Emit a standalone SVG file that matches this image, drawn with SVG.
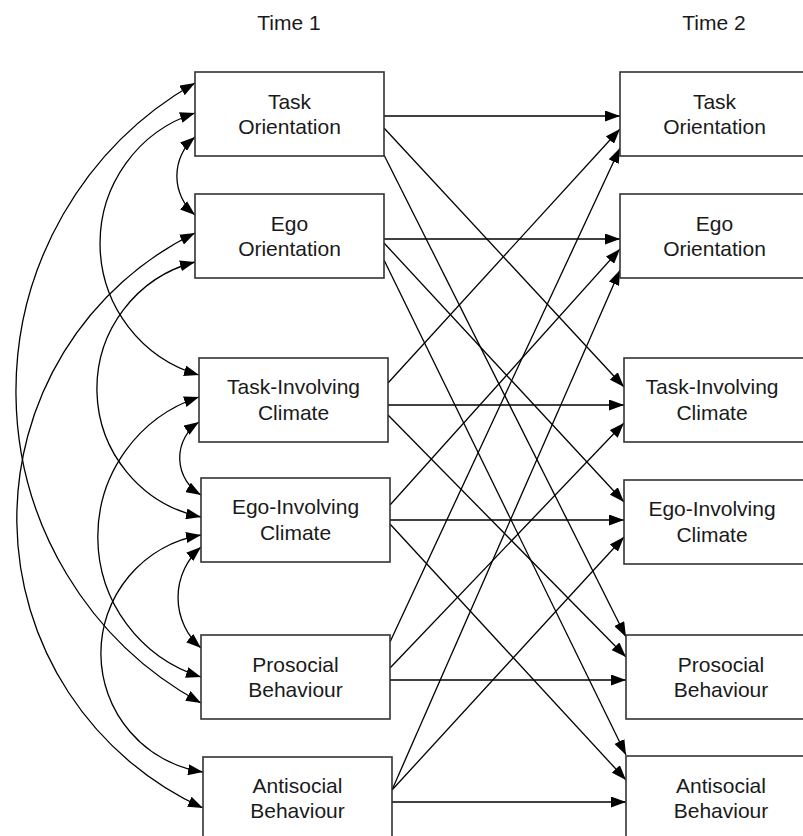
<svg xmlns="http://www.w3.org/2000/svg" width="803" height="836" viewBox="0 0 803 836">
<defs>
<marker id="ah" viewBox="0 0 15 11" refX="15" refY="5.5" markerWidth="15" markerHeight="11" markerUnits="userSpaceOnUse" orient="auto-start-reverse">
<path d="M0,0 L15,5.5 L0,11 z" fill="#000"/>
</marker>
<style>
.box{fill:#fff;stroke:#333;stroke-width:1.6}
.t{font-family:"Liberation Sans",Arial,sans-serif;font-size:21px;fill:#1a1a1a;text-anchor:middle}
.ln{fill:none;stroke:#000;stroke-width:1.3;marker-end:url(#ah)}
.cv{fill:none;stroke:#000;stroke-width:1.3;marker-start:url(#ah);marker-end:url(#ah)}
</style>
</defs>
<rect width="803" height="836" fill="#fff"/>
<text class="t" x="289" y="30">Time 1</text>
<text class="t" x="714" y="30">Time 2</text>
<g id="connectors">
<line class="ln" x1="384" y1="116" x2="620" y2="116"/>
<line class="ln" x1="384" y1="239" x2="620" y2="239"/>
<line class="ln" x1="388" y1="405" x2="624" y2="405"/>
<line class="ln" x1="390" y1="520" x2="624" y2="520"/>
<line class="ln" x1="390" y1="680" x2="626" y2="680"/>
<line class="ln" x1="392" y1="802" x2="626" y2="802"/>
<line class="ln" x1="384" y1="128" x2="624" y2="387"/>
<line class="ln" x1="384" y1="155" x2="626" y2="637"/>
<line class="ln" x1="384" y1="243" x2="624" y2="502"/>
<line class="ln" x1="384" y1="260" x2="626" y2="755"/>
<line class="ln" x1="388" y1="383" x2="620" y2="129"/>
<line class="ln" x1="388" y1="415" x2="626" y2="657"/>
<line class="ln" x1="390" y1="505" x2="620" y2="249"/>
<line class="ln" x1="390" y1="524" x2="626" y2="780"/>
<line class="ln" x1="390" y1="642" x2="620" y2="148"/>
<line class="ln" x1="390" y1="668" x2="624" y2="423"/>
<line class="ln" x1="392" y1="790" x2="620" y2="270"/>
<line class="ln" x1="392" y1="790" x2="624" y2="537"/>
<path class="cv" d="M195,83 A355,355 0 0,0 201,703"/>
<path class="cv" d="M195,113 A137,137 0 0,0 199,375"/>
<path class="cv" d="M195,137 A51,51 0 0,0 195,215"/>
<path class="cv" d="M195,233 A318,318 0 0,0 203,808"/>
<path class="cv" d="M195,262 A131,131 0 0,0 201,517"/>
<path class="cv" d="M199,397 A147,147 0 0,0 201,677"/>
<path class="cv" d="M199,422 A43,43 0 0,0 201,495"/>
<path class="cv" d="M201,535 A120,120 0 0,0 203,772"/>
<path class="cv" d="M201,547 A67,67 0 0,0 201,648"/>
</g>
<g id="t1-task-orientation"><rect class="box" x="195" y="72" width="189" height="84"/><text class="t" x="289.5" y="109">Task</text><text class="t" x="289.5" y="134">Orientation</text></g>
<g id="t1-ego-orientation"><rect class="box" x="195" y="194" width="189" height="84"/><text class="t" x="289.5" y="231">Ego</text><text class="t" x="289.5" y="256">Orientation</text></g>
<g id="t1-task-involving"><rect class="box" x="199" y="358" width="189" height="84"/><text class="t" x="293.5" y="394">Task-Involving</text><text class="t" x="293.5" y="420">Climate</text></g>
<g id="t1-ego-involving"><rect class="box" x="201" y="478" width="189" height="84"/><text class="t" x="295.5" y="514">Ego-Involving</text><text class="t" x="295.5" y="540">Climate</text></g>
<g id="t1-prosocial"><rect class="box" x="201" y="635" width="189" height="84"/><text class="t" x="295.5" y="672">Prosocial</text><text class="t" x="295.5" y="697">Behaviour</text></g>
<g id="t1-antisocial"><rect class="box" x="203" y="757" width="189" height="84"/><text class="t" x="297.5" y="793">Antisocial</text><text class="t" x="297.5" y="818">Behaviour</text></g>
<g id="t2-task-orientation"><rect class="box" x="620" y="72" width="189" height="84"/><text class="t" x="714.5" y="109">Task</text><text class="t" x="714.5" y="134">Orientation</text></g>
<g id="t2-ego-orientation"><rect class="box" x="620" y="194" width="189" height="84"/><text class="t" x="714.5" y="231">Ego</text><text class="t" x="714.5" y="256">Orientation</text></g>
<g id="t2-task-involving"><rect class="box" x="624" y="358" width="189" height="84"/><text class="t" x="712" y="394">Task-Involving</text><text class="t" x="712" y="420">Climate</text></g>
<g id="t2-ego-involving"><rect class="box" x="624" y="480" width="189" height="84"/><text class="t" x="712" y="516">Ego-Involving</text><text class="t" x="712" y="542">Climate</text></g>
<g id="t2-prosocial"><rect class="box" x="626" y="635" width="189" height="84"/><text class="t" x="721" y="672">Prosocial</text><text class="t" x="721" y="697">Behaviour</text></g>
<g id="t2-antisocial"><rect class="box" x="626" y="756" width="189" height="84"/><text class="t" x="721" y="793">Antisocial</text><text class="t" x="721" y="818">Behaviour</text></g>
</svg>
